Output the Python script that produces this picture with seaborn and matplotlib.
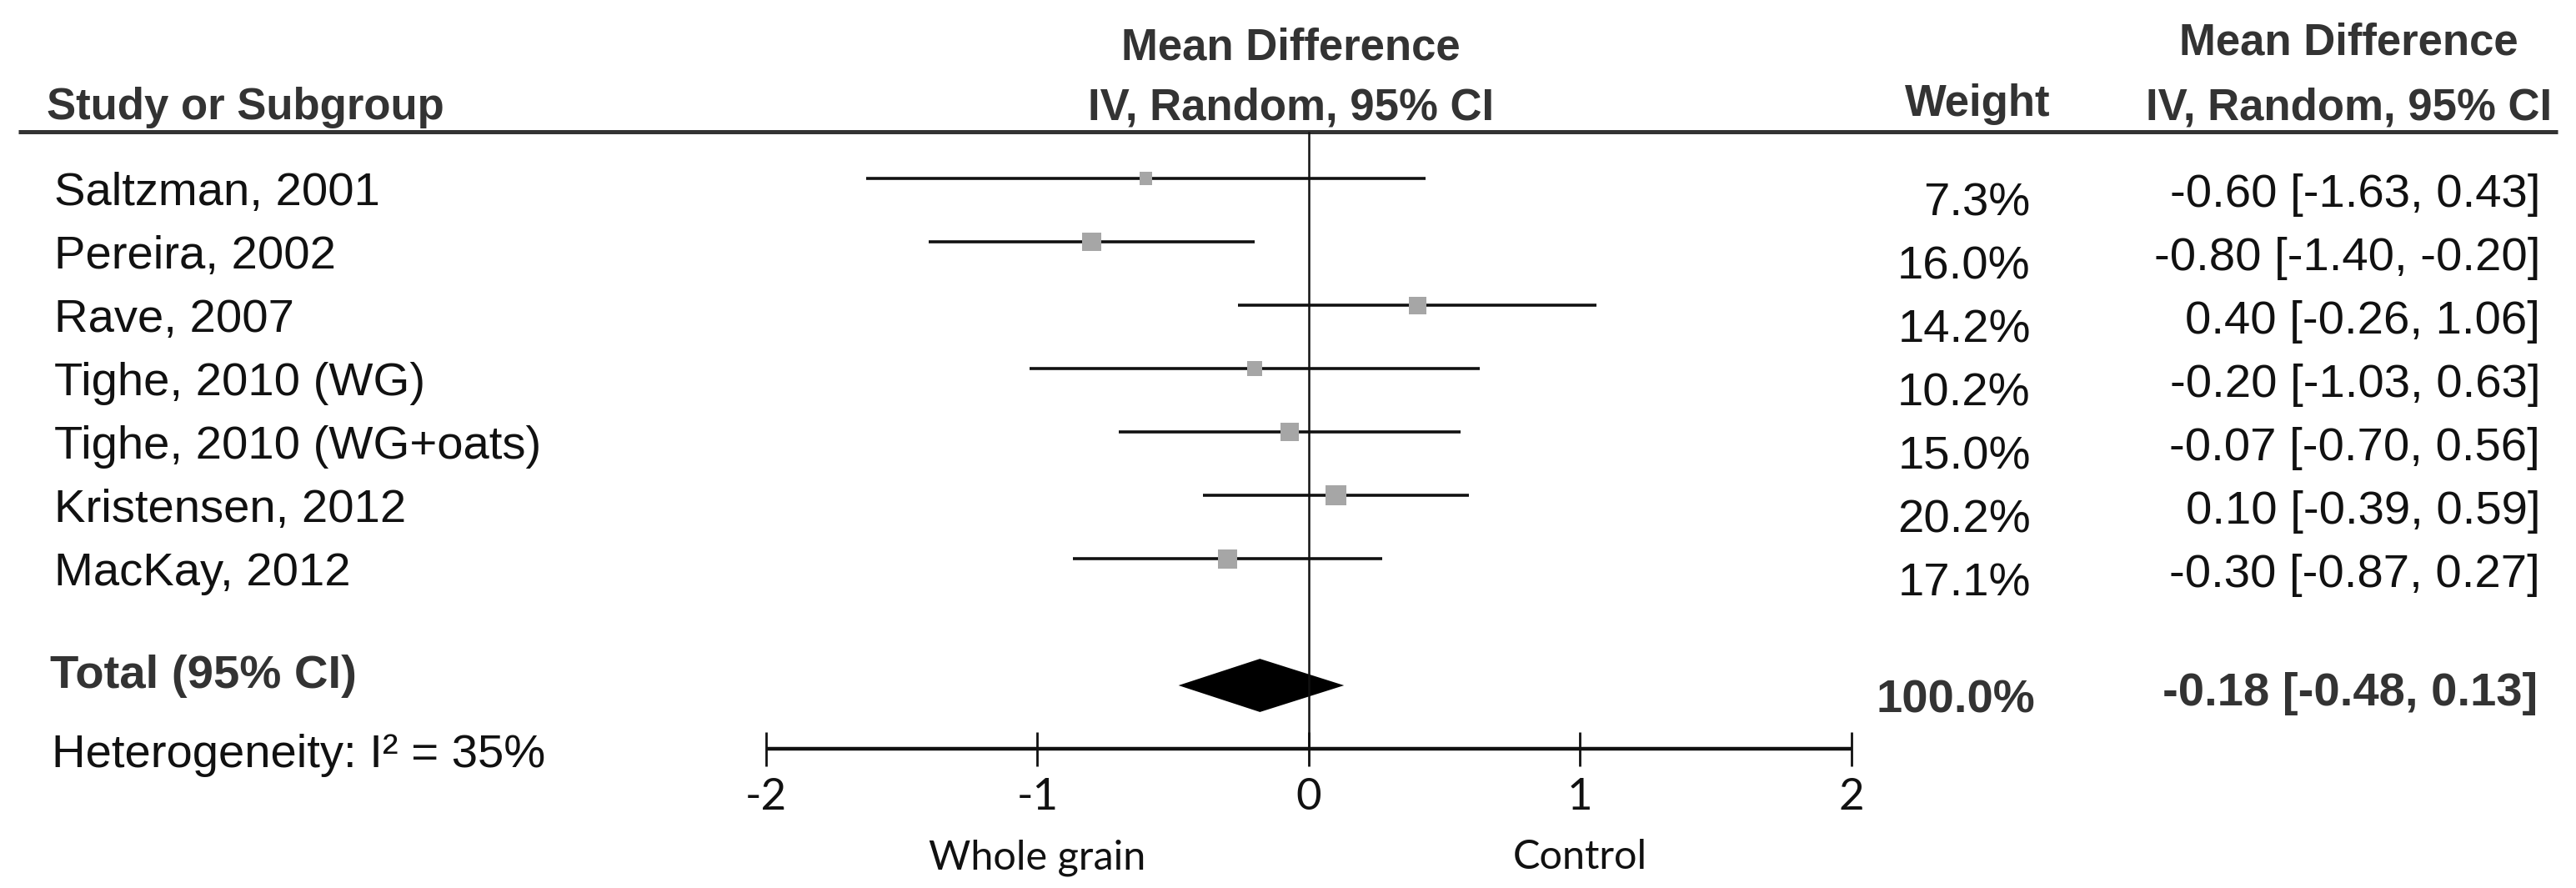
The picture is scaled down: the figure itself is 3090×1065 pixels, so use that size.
import numpy as np
import pandas as pd
import seaborn as sns
import matplotlib.pyplot as plt
from matplotlib.transforms import blended_transform_factory

# study data
studies = ["Saltzman, 2001", "Pereira, 2002", "Rave, 2007", "Tighe, 2010 (WG)",
           "Tighe, 2010 (WG+oats)", "Kristensen, 2012", "MacKay, 2012"]
md = [-0.60, -0.80, 0.40, -0.20, -0.07, 0.10, -0.30]
ci_low = [-1.63, -1.40, -0.26, -1.03, -0.70, -0.39, -0.87]
ci_high = [0.43, -0.20, 1.06, 0.63, 0.56, 0.59, 0.27]
weights = [7.3, 16.0, 14.2, 10.2, 15.0, 20.2, 17.1]

total_md = -0.18
total_low = -0.48
total_high = 0.13
heterogeneity = "Heterogeneity: I² = 35%"

ticks = [-2, -1, 0, 1, 2]
tick_labels = ["-2", "-1", "0", "1", "2"]
favours = ["Whole grain", "Control"]

df = pd.DataFrame({"study": studies, "md": md, "low": ci_low, "high": ci_high,
                   "weight": weights})
df["row"] = np.arange(len(df))
total_row = len(df) + 1
axis_row = total_row + 1

sns.set_theme(style="white")
plt.rcParams['font.family'] = ['Liberation Sans', 'DejaVu Sans']

fig = plt.figure(figsize=(30.9, 10.65), dpi=100)
ax = fig.add_axes([0, 0, 1, 1])
ax.axis("off")
trans = blended_transform_factory(ax.transAxes, ax.transData)

# header
hdr = dict(fontsize=38, fontweight="bold", color="#333333")
ax.text(0.018, -0.93, "Study or Subgroup", ha="left", va="baseline", transform=trans, **hdr)
ax.text(0.501, -1.88, "Mean Difference", ha="center", va="baseline", transform=trans, **hdr)
ax.text(0.501, -0.93, "IV, Random, 95% CI", ha="center", va="baseline", transform=trans, **hdr)
ax.text(0.7676, -0.99, "Weight", ha="center", va="baseline", transform=trans, **hdr)
ax.text(0.9117, -1.95, "Mean Difference", ha="center", va="baseline", transform=trans, **hdr)
ax.text(0.9906, -0.93, "IV, Random, 95% CI", ha="right", va="baseline", transform=trans, **hdr)
ax.plot([22 / 3090, 3068 / 3090], [-0.74, -0.74], color="#333333", lw=3.6, transform=trans,
        solid_capstyle="butt")

# null line
ax.vlines(0, -0.74, axis_row, color="#111111", lw=1.8)

# confidence intervals and study squares
ax.hlines(df["row"], df["low"], df["high"], color="#111111", lw=2.6)
sns.scatterplot(data=df, x="md", y="row", size="weight", sizes=(125, 320),
                size_norm=(min(weights), max(weights)), marker="s", color="#a6a6a6",
                edgecolor="none", legend=False, ax=ax, zorder=3)
ax.set_xlim(-4.823, 4.670)
ax.set_ylim(11.197, -2.816)
ax.axis("off")

# pooled diamond
h = 0.42
ax.fill([total_low, total_md, total_high, total_md],
        [total_row, total_row - h, total_row, total_row + h], color="black", lw=0)

txt = dict(fontsize=40.5, color="#111111")
for _, r in df.iterrows():
    ax.text(0.021, r["row"] + 0.42, r["study"], ha="left", va="baseline", transform=trans, **txt)
    ax.text(0.7883, r["row"] + 0.58, f"{r['weight']:.1f}%", ha="right", va="baseline",
            transform=trans, **txt)
    ax.text(0.9861, r["row"] + 0.45, f"{r['md']:.2f} [{r['low']:.2f}, {r['high']:.2f}]",
            ha="right", va="baseline", transform=trans, **txt)

bold = dict(fontsize=40.5, fontweight="bold", color="#333333")
ax.text(0.0194, total_row + 0.04, "Total (95% CI)", ha="left", va="baseline", transform=trans, **bold)
ax.text(0.790, total_row + 0.43, f"{sum(weights):.1f}%", ha="right", va="baseline",
        transform=trans, **bold)
ax.text(0.985, total_row + 0.32, f"{total_md:.2f} [{total_low:.2f}, {total_high:.2f}]",
        ha="right", va="baseline", transform=trans, **bold)
ax.text(0.020, axis_row + 0.29, heterogeneity, ha="left", va="baseline", transform=trans, **txt)

# x axis
ax.hlines(axis_row, ticks[0], ticks[-1], color="#111111", lw=3.2)
ax.vlines(ticks, axis_row - 0.27, axis_row + 0.27, color="#111111", lw=2)
for t, lab in zip(ticks, tick_labels):
    ax.text(t, axis_row + 0.96, lab, ha="center", va="baseline", fontsize=38,
            family=["Lato", "DejaVu Sans"], color="#111111")
ax.text(-1, axis_row + 1.9, favours[0], ha="center", va="baseline", fontsize=35,
        family=["Lato", "DejaVu Sans"], color="#111111")
ax.text(1, axis_row + 1.9, favours[1], ha="center", va="baseline", fontsize=35,
        family=["Lato", "DejaVu Sans"], color="#111111")

fig.savefig("out.png", dpi=100, facecolor="white")
